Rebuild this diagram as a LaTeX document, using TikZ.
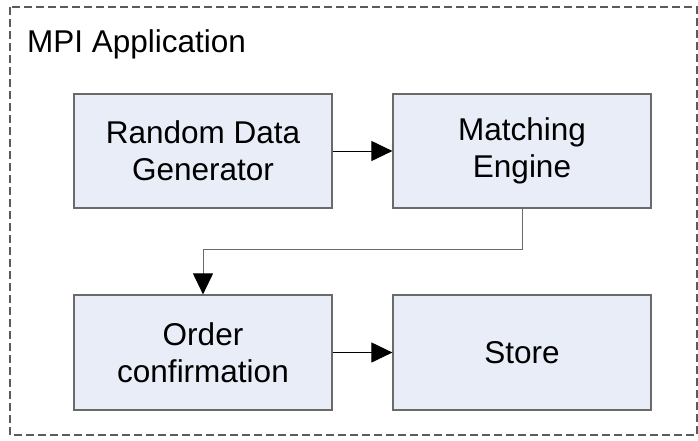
\documentclass[tikz,border=0pt]{standalone}
\usepackage{fontspec}
\setmainfont{Liberation Sans}
\usetikzlibrary{arrows.meta}
\definecolor{boxfill}{HTML}{E9EDF7}
\definecolor{boxline}{HTML}{6A6A6A}
\definecolor{frameline}{HTML}{5A5A5A}
\begin{document}
\begin{tikzpicture}[x=1pt,y=1pt,
  procbox/.style={draw=boxline, fill=boxfill, line width=1.2pt,
    minimum width=258pt, minimum height=114pt, inner sep=0pt,
    align=center, font=\fontsize{31.5}{37}\selectfont},
  flow/.style={line width=1pt, -{Triangle[length=21pt,width=20pt,color=black]}},
]
\useasboundingbox (0,0) rectangle (698,-440);
% outer application frame
\draw[frameline, line width=1.2pt, dash pattern=on 8pt off 4pt]
  (10,-7) rectangle (697,-435);
\node[anchor=base west, inner sep=0pt, font=\fontsize{31.5}{37}\selectfont]
  (title) at (27,-52) {MPI Application};
% processing stages
\node[procbox] (gen) at (203,-151) {Random Data\\Generator};
\node[procbox] (eng) at (522,-151) {Matching\\Engine};
\node[procbox, minimum height=115pt] (ord) at (203,-352.5) {Order\\confirmation};
\node[procbox, minimum height=115pt] (sto) at (522,-352.5) {Store};
% data flow
\draw[flow] (gen) -- (eng);
\draw[flow, draw=boxline] (eng.south) -- ++(0,-41) -| (ord.north);
\draw[flow] (ord) -- (sto);
\end{tikzpicture}
\end{document}
